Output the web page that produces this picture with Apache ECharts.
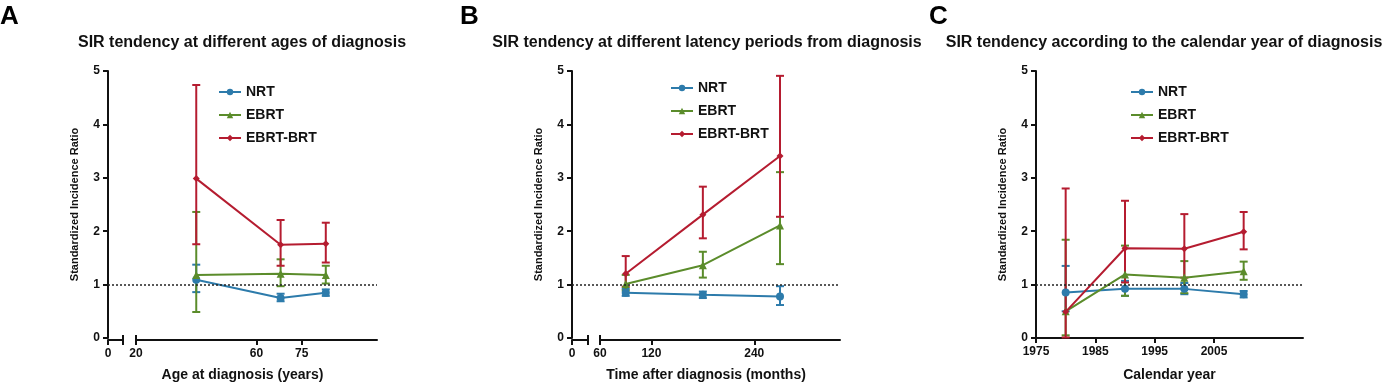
<!DOCTYPE html>
<html>
<head>
<meta charset="utf-8">
<script src="https://cdn.jsdelivr.net/npm/echarts@6/dist/echarts.min.js"></script>
<style>
  html, body { margin: 0; padding: 0; background: #fff; }
  #chart { width: 1389px; height: 387px; }
</style>
</head>
<body>
<div id="chart"></div>
<script>
// Series shared by the three panels
const seriesNames = ['NRT', 'EBRT', 'EBRT-BRT'];
const refValue = 1;

// Panel A - age at diagnosis
const ageX = [40, 68, 83];
const ageNRT = [1.12, 0.78, 0.88];
const ageNRTLow = [0.89, 0.72, 0.82];
const ageNRTHigh = [1.40, 0.86, 0.94];
const ageEBRT = [1.21, 1.23, 1.21];
const ageEBRTLow = [0.52, 1.00, 1.05];
const ageEBRTHigh = [2.38, 1.50, 1.38];
const ageBRT = [3.00, 1.77, 1.79];
const ageBRTLow = [1.78, 1.38, 1.44];
const ageBRTHigh = [4.74, 2.23, 2.18];
const ageTicks = [20, 60, 75];

// Panel B - latency (months)
const latX = [90, 180, 270];
const latNRT = [0.88, 0.84, 0.81];
const latNRTLow = [0.82, 0.78, 0.65];
const latNRTHigh = [0.95, 0.90, 1.00];
const latEBRT = [1.04, 1.39, 2.13];
const latEBRTLow = [0.92, 1.16, 1.41];
const latEBRTHigh = [1.21, 1.64, 3.12];
const latBRT = [1.23, 2.33, 3.42];
const latBRTLow = [0.99, 1.89, 2.29];
const latBRTHigh = [1.56, 2.85, 4.91];
const latTicks = [60, 120, 240];

// Panel C - calendar year
const yearX = [1980, 1990, 2000, 2010];
const yearNRT = [0.85, 0.92, 0.92, 0.82];
const yearNRTLow = [0.50, 0.79, 0.82, 0.76];
const yearNRTHigh = [1.35, 1.07, 1.03, 0.88];
const yearEBRT = [0.50, 1.19, 1.13, 1.25];
const yearEBRTLow = [0.05, 0.79, 0.84, 1.09];
const yearEBRTHigh = [1.84, 1.73, 1.44, 1.43];
const yearBRT = [0.49, 1.68, 1.67, 1.99];
const yearBRTLow = [0.01, 1.04, 1.13, 1.66];
const yearBRTHigh = [2.80, 2.57, 2.32, 2.36];
const yearTicks = [1975, 1985, 1995, 2005];

const colors = ['#2d7bab', '#5b8c2b', '#b51c30'];
const symbols = ['circle', 'triangle', 'diamond'];
const symbolSizes = [8, 8, 7];
const FONT = '"Liberation Sans", Arial, sans-serif';
const INK = '#111';

const grids = [], xAxes = [], yAxes = [], series = [];
const axisLineStyle = { color: INK, width: 2 };

function addGrid(left, width) {
    grids.push({ left: left, width: width, top: 71, height: 269 });
    return grids.length - 1;
}

function addMainY(g) {
    yAxes.push({
        gridIndex: g, type: 'value', min: 0, max: 5, interval: 1,
        name: 'Standardized Incidence Ratio', nameLocation: 'middle', nameGap: 28,
        nameTextStyle: { fontFamily: FONT, fontSize: 11, fontWeight: 'bold', color: INK },
        axisLine: { show: true, lineStyle: axisLineStyle },
        axisTick: { show: true, length: 5, lineStyle: axisLineStyle },
        axisLabel: { fontFamily: FONT, fontSize: 12, fontWeight: 'bold', color: INK, margin: 8 },
        splitLine: { show: false }
    });
    return yAxes.length - 1;
}

function addHiddenY(g) {
    yAxes.push({ gridIndex: g, type: 'value', min: 0, max: 5, show: false });
    return yAxes.length - 1;
}

// x axis used only for the axis title spanning the whole panel
function addNameX(g, name) {
    xAxes.push({
        gridIndex: g, type: 'value', min: 0, max: 1,
        name: name, nameLocation: 'middle', nameGap: 30,
        nameTextStyle: { fontFamily: FONT, fontSize: 14, fontWeight: 'bold', color: INK },
        axisLine: { show: false }, axisTick: { show: false },
        axisLabel: { show: false }, splitLine: { show: false }
    });
    return xAxes.length - 1;
}

function addSegX(g, min, max, ticks, labels, name) {
    xAxes.push({
        gridIndex: g, type: 'value', min: min, max: max, position: 'bottom',
        name: name || '', nameLocation: 'middle', nameGap: 30,
        nameTextStyle: { fontFamily: FONT, fontSize: 14, fontWeight: 'bold', color: INK },
        axisLine: { show: true, onZero: false, lineStyle: axisLineStyle },
        axisTick: { show: true, length: 5, customValues: ticks, lineStyle: axisLineStyle },
        axisLabel: {
            customValues: labels, formatter: v => String(v),
            fontFamily: FONT, fontSize: 12, fontWeight: 'bold', color: INK, margin: 8
        },
        splitLine: { show: false }
    });
    return xAxes.length - 1;
}

// upper half of the axis-break cap
function addCapX(g, min, max, at) {
    xAxes.push({
        gridIndex: g, type: 'value', min: min, max: max, position: 'bottom',
        axisLine: { show: false, onZero: false },
        axisTick: { show: true, inside: true, length: 5, customValues: [at], lineStyle: axisLineStyle },
        axisLabel: { show: false }, splitLine: { show: false }
    });
}

function addRefLine(xi, yi) {
    series.push({
        type: 'line', name: 'ref', xAxisIndex: xi, yAxisIndex: yi, data: [], silent: true,
        markLine: {
            silent: true, symbol: 'none', label: { show: false },
            lineStyle: { type: [2, 2], color: '#222', width: 1.5 },
            data: [{ yAxis: refValue }]
        }
    });
}

function errorRender(color) {
    return function (params, api) {
        const x = api.value(0);
        const pLo = api.coord([x, api.value(1)]);
        const pHi = api.coord([x, api.value(2)]);
        const w = 4;
        const st = { stroke: color, lineWidth: 2 };
        return {
            type: 'group',
            children: [
                { type: 'line', shape: { x1: pHi[0], y1: pHi[1], x2: pLo[0], y2: pLo[1] }, style: st },
                { type: 'line', shape: { x1: pHi[0] - w, y1: pHi[1], x2: pHi[0] + w, y2: pHi[1] }, style: st },
                { type: 'line', shape: { x1: pLo[0] - w, y1: pLo[1], x2: pLo[0] + w, y2: pLo[1] }, style: st }
            ]
        };
    };
}

function addData(xi, yi, xs, groups) {
    groups.forEach(function (grp, k) {
        series.push({
            type: 'line', name: seriesNames[k], xAxisIndex: xi, yAxisIndex: yi, z: 3,
            data: xs.map((x, i) => [x, grp[0][i]]),
            symbol: symbols[k], symbolSize: symbolSizes[k],
            color: colors[k],
            lineStyle: { color: colors[k], width: 2 },
            itemStyle: { color: colors[k] }
        });
    });
    groups.forEach(function (grp, k) {
        series.push({
            type: 'custom', name: seriesNames[k] + ' CI', xAxisIndex: xi, yAxisIndex: yi, z: 2,
            color: colors[k],
            renderItem: errorRender(colors[k]),
            encode: { x: 0, y: [1, 2] },
            data: xs.map((x, i) => [x, grp[1][i], grp[2][i]])
        });
    });
}

// ---- Panel A ----
let g = addGrid(108, 269);
let fx = addNameX(g, 'Age at diagnosis (years)');
let fy = addMainY(g);
addRefLine(fx, fy);
g = addGrid(108, 15);
addSegX(g, 0, 1, [0, 1], [0]);
addCapX(g, 0, 1, 1);
addHiddenY(g);
g = addGrid(136, 241);
let sx = addSegX(g, 20, 100, ageTicks, ageTicks);
addCapX(g, 20, 100, 20);
let sy = addHiddenY(g);
addData(sx, sy, ageX, [
    [ageNRT, ageNRTLow, ageNRTHigh],
    [ageEBRT, ageEBRTLow, ageEBRTHigh],
    [ageBRT, ageBRTLow, ageBRTHigh]
]);

// ---- Panel B ----
g = addGrid(572, 268);
fx = addNameX(g, 'Time after diagnosis (months)');
fy = addMainY(g);
addRefLine(fx, fy);
g = addGrid(572, 16);
addSegX(g, 0, 1, [0, 1], [0]);
addCapX(g, 0, 1, 1);
addHiddenY(g);
g = addGrid(600, 240);
sx = addSegX(g, 60, 340, latTicks, latTicks);
addCapX(g, 60, 340, 60);
sy = addHiddenY(g);
addData(sx, sy, latX, [
    [latNRT, latNRTLow, latNRTHigh],
    [latEBRT, latEBRTLow, latEBRTHigh],
    [latBRT, latBRTLow, latBRTHigh]
]);

// ---- Panel C ----
g = addGrid(1036, 267);
sx = addSegX(g, 1975, 2020, yearTicks, yearTicks, 'Calendar year');
sy = addMainY(g);
addRefLine(sx, sy);
addData(sx, sy, yearX, [
    [yearNRT, yearNRTLow, yearNRTHigh],
    [yearEBRT, yearEBRTLow, yearEBRTHigh],
    [yearBRT, yearBRTLow, yearBRTHigh]
]);

function legendAt(left, top) {
    return {
        data: seriesNames, orient: 'vertical', left: left, top: top,
        itemWidth: 22, itemHeight: 8, itemGap: 9,
        textStyle: { fontFamily: FONT, fontSize: 14, fontWeight: 'bold', color: INK }
    };
}

function titleAt(text, x, top) {
    return {
        text: text, left: x, top: top, textAlign: 'center', padding: 0,
        textStyle: { fontFamily: FONT, fontSize: 16, fontWeight: 'bold', color: INK }
    };
}

function letterAt(text, x) {
    return {
        text: text, left: x, top: 4, padding: 0,
        textStyle: { fontFamily: FONT, fontSize: 26, fontWeight: 'bold', color: '#000' }
    };
}

const chart = echarts.init(document.getElementById('chart'));
chart.setOption({
    animation: false,
    backgroundColor: '#fff',
    title: [
        letterAt('A', 0), letterAt('B', 460), letterAt('C', 929),
        titleAt('SIR tendency at different ages of diagnosis', 242, 35),
        titleAt('SIR tendency at different latency periods from diagnosis', 707, 35),
        titleAt('SIR tendency according to the calendar year of diagnosis', 1164, 35)
    ],
    legend: [legendAt(213, 80), legendAt(665, 76), legendAt(1125, 80)],
    grid: grids,
    xAxis: xAxes,
    yAxis: yAxes,
    series: series
});
</script>
</body>
</html>
